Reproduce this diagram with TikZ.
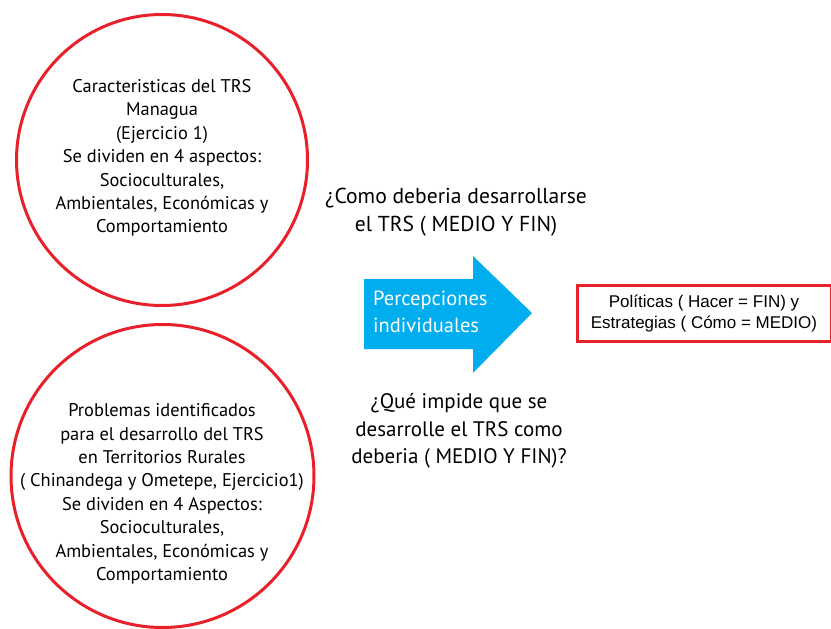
\documentclass[tikz,border=0pt]{standalone}
\usepackage{fontspec}
\setmainfont{PT Sans}
\newfontfamily\helv{Liberation Sans}
\definecolor{cred}{HTML}{E8202A}
\definecolor{ccyan}{HTML}{00AEEF}
\begin{document}
\begin{tikzpicture}[x=1pt,y=-1pt,
  ring/.style={circle,draw=cred,line width=3pt},
  ctext/.style={align=center,font=\fontsize{18.4}{23.4}\selectfont,inner sep=0pt},
  qtext/.style={align=center,font=\fontsize{21}{27.5}\selectfont,inner sep=0pt}]
\useasboundingbox (0,0) rectangle (831,629);
% circles
\node[ring,minimum size=291pt,inner sep=0pt] (c1) at (162,160) {};
\node[ring,minimum size=303pt,inner sep=0pt] (c2) at (162.5,476) {};
\node[ctext] (t1) at (162,158) {Caracteristicas del TRS\\Managua\\(Ejercicio 1)\\Se dividen en 4 aspectos:\\Socioculturales,\\Ambientales, Económicas y\\Comportamiento};
\node[ctext] (t2) at (162,494) {Problemas identificados\\para el desarrollo del TRS\\en Territorios Rurales\\( Chinandega y Ometepe, Ejercicio1)\\Se dividen en 4 Aspectos:\\Socioculturales,\\Ambientales, Económicas y\\Comportamiento};
% questions
\node[qtext,font=\fontsize{21.6}{28}\selectfont] (q1) at (456,212) {¿Como deberia desarrollarse\\el TRS ( MEDIO Y FIN)};
\node[qtext] (q2) at (459,431) {¿Qué impide que se\\desarrolle el TRS como\\deberia ( MEDIO Y FIN)?};
% arrow
\fill[ccyan] (364,279) -- (473,279) -- (473,256) -- (532,313) -- (473,373) -- (473,349) -- (364,349) -- cycle;
\node[align=left,text=white,font=\fontsize{20.5}{27}\selectfont,inner sep=0pt,anchor=west] (arr) at (373,312) {Percepciones\\individuales};
% box
\node[draw=cred,line width=3pt,minimum width=254pt,minimum height=56pt,inner sep=0pt,align=center,font=\helv\fontsize{17}{21}\selectfont] (box) at (704,313.5) {Políticas ( Hacer = FIN) y\\Estrategias ( Cómo = MEDIO)};
\end{tikzpicture}
\end{document}
